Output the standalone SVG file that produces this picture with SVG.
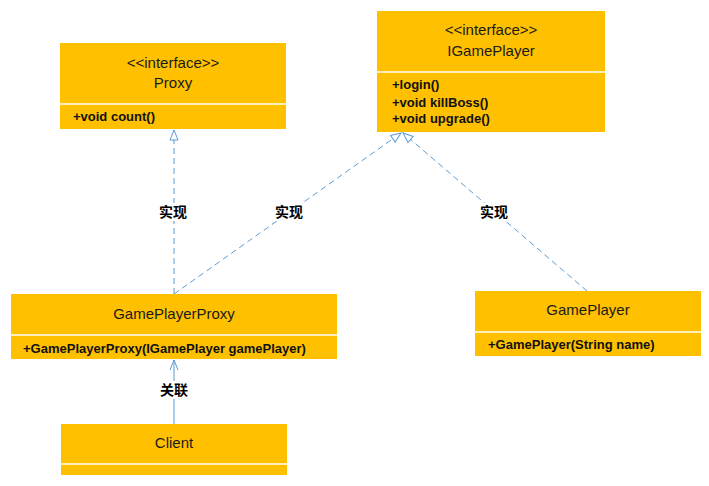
<svg xmlns="http://www.w3.org/2000/svg" width="709" height="486" viewBox="0 0 709 486">
<defs>
<style>
.box{fill:#FFC000}
.sep{stroke:#ffffff;stroke-width:1.5}
.t{font-family:"Liberation Sans",Arial,sans-serif;font-size:15px;fill:#1a1a1a;text-anchor:middle}
.m{font-family:"Liberation Sans",Arial,sans-serif;font-size:13px;font-weight:bold;fill:#111}
.dash{stroke:#5B9BD5;stroke-width:1;fill:none;stroke-dasharray:6,4}
.solid{stroke:#5B9BD5;stroke-width:1;fill:none}
.lbl{font-family:"Noto Sans CJK SC","Noto Sans",sans-serif;font-size:14px;font-weight:bold;fill:#000;text-anchor:middle}
.bg{fill:#fff}
</style>
<marker id="tri" markerWidth="12" markerHeight="12" refX="11" refY="5" orient="auto" markerUnits="userSpaceOnUse" viewBox="0 0 12 10">
<path d="M1,1 L11,5 L1,9 Z" fill="#fff" stroke="#5B9BD5" stroke-width="1"/>
</marker>
<marker id="open" markerWidth="12" markerHeight="12" refX="11" refY="5" orient="auto" markerUnits="userSpaceOnUse" viewBox="0 0 12 10">
<path d="M1,1 L11,5 L1,9" fill="none" stroke="#5B9BD5" stroke-width="1"/>
</marker>
</defs>
<rect width="709" height="486" fill="#fff"/>
<g id="connectors">
<line class="dash" x1="174" y1="294" x2="174" y2="130" marker-end="url(#tri)"/>
<line class="dash" x1="174" y1="294" x2="401" y2="133" marker-end="url(#tri)"/>
<line class="dash" x1="587" y1="291" x2="403" y2="133" marker-end="url(#tri)"/>
<line class="solid" x1="174" y1="424" x2="174" y2="360" marker-end="url(#open)"/>
<rect class="bg" x="157" y="203" width="32" height="18"/>
<text class="lbl" x="173" y="217">实现</text>
<rect class="bg" x="273" y="203" width="32" height="18"/>
<text class="lbl" x="289" y="217">实现</text>
<rect class="bg" x="478" y="203" width="32" height="18"/>
<text class="lbl" x="494" y="217">实现</text>
<rect class="bg" x="158" y="381" width="32" height="18"/>
<text class="lbl" x="174" y="395">关联</text>
</g>
<g id="Proxy">
<rect class="box" x="60" y="43" width="226" height="86"/>
<line class="sep" x1="60" y1="104" x2="286" y2="104"/>
<text class="t" x="173" y="68">&lt;&lt;interface&gt;&gt;</text>
<text class="t" x="173" y="88">Proxy</text>
<text class="m" x="73" y="121">+void count()</text>
</g>
<g id="IGamePlayer">
<rect class="box" x="377" y="11" width="228" height="121"/>
<line class="sep" x1="377" y1="72" x2="605" y2="72"/>
<text class="t" x="491" y="35">&lt;&lt;interface&gt;&gt;</text>
<text class="t" x="491" y="56">IGamePlayer</text>
<text class="m" x="392" y="89">+login()</text>
<text class="m" x="392" y="107">+void killBoss()</text>
<text class="m" x="392" y="123">+void upgrade()</text>
</g>
<g id="GamePlayerProxy">
<rect class="box" x="11" y="294" width="326" height="65"/>
<line class="sep" x1="11" y1="335" x2="337" y2="335"/>
<text class="t" x="174" y="319">GamePlayerProxy</text>
<text class="m" x="23" y="353">+GamePlayerProxy(IGamePlayer gamePlayer)</text>
</g>
<g id="GamePlayer">
<rect class="box" x="475" y="291" width="226" height="65"/>
<line class="sep" x1="475" y1="332" x2="701" y2="332"/>
<text class="t" x="588" y="315">GamePlayer</text>
<text class="m" x="488" y="349">+GamePlayer(String name)</text>
</g>
<g id="Client">
<rect class="box" x="61" y="424" width="226" height="51"/>
<line class="sep" x1="61" y1="464" x2="287" y2="464"/>
<text class="t" x="174" y="448">Client</text>
</g>
</svg>
